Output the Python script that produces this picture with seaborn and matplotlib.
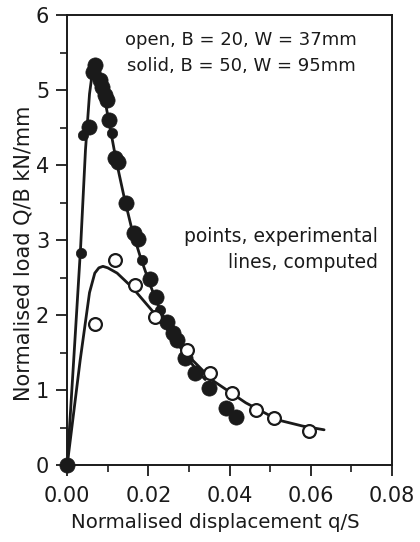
import matplotlib
matplotlib.use("Agg")
import matplotlib.pyplot as plt
import seaborn as sns
import pandas as pd
from matplotlib.ticker import MultipleLocator

# ---- data ----
solid_x = [0.0, 0.0033, 0.0040, 0.0054, 0.0069, 0.0064, 0.0081, 0.0086, 0.0093, 0.0098,
           0.0103, 0.0110, 0.0118, 0.0126, 0.0145, 0.0164, 0.0174, 0.0184, 0.0204, 0.0220,
           0.0228, 0.0245, 0.0260, 0.0270, 0.0290, 0.0314, 0.0350, 0.0392, 0.0415]
solid_y = [0.0, 2.83, 4.40, 4.51, 5.33, 5.24, 5.13, 5.04, 4.93, 4.87,
           4.60, 4.43, 4.09, 4.04, 3.50, 3.09, 3.01, 2.73, 2.48, 2.24,
           2.07, 1.91, 1.76, 1.67, 1.43, 1.23, 1.03, 0.76, 0.64]
solid_big = [1, 0, 0, 1, 1, 1, 1, 1, 1, 1,
             1, 0, 1, 1, 1, 1, 1, 0, 1, 1,
             0, 1, 1, 1, 1, 1, 1, 1, 1]

open_x = [0.0069, 0.0118, 0.0167, 0.0216, 0.0294, 0.0351, 0.0407, 0.0466, 0.0510, 0.0596]
open_y = [1.88, 2.73, 2.40, 1.97, 1.53, 1.23, 0.96, 0.73, 0.63, 0.45]

solid_line_x = [0.0, 0.0020, 0.0033, 0.0045, 0.0055, 0.0063, 0.0070, 0.0080, 0.0090, 0.0105,
                0.0120, 0.0140, 0.0160, 0.0180, 0.0200, 0.0220, 0.0240, 0.0260, 0.0280, 0.0300,
                0.0320, 0.0340]
solid_line_y = [0.0, 1.75, 2.90, 4.20, 4.95, 5.28, 5.30, 5.18, 4.95, 4.52,
                4.08, 3.58, 3.13, 2.78, 2.47, 2.18, 1.94, 1.74, 1.56, 1.40,
                1.26, 1.14]

open_line_x = [0.0, 0.0032, 0.0055, 0.0068, 0.0078, 0.0088, 0.0100, 0.0123, 0.0160, 0.0187,
               0.0236, 0.0285, 0.0358, 0.0440, 0.0520, 0.0580, 0.0633]
open_line_y = [0.0, 1.40, 2.30, 2.56, 2.63, 2.65, 2.63, 2.56, 2.37, 2.20,
               1.89, 1.53, 1.13, 0.83, 0.60, 0.52, 0.47]

x_ticks = [0.00, 0.02, 0.04, 0.06, 0.08]
x_tick_labels = ["0.00", "0.02", "0.04", "0.06", "0.08"]
y_ticks = [0, 1, 2, 3, 4, 5, 6]

# ---- plot ----
sns.set_theme(style="ticks")
plt.rcParams["font.family"] = ["DejaVu Sans"]

INK = "#1a1a1a"
fig = plt.figure(figsize=(4.2, 5.42), dpi=100)
ax = fig.add_axes([0.160, 0.142, 0.773, 0.830])

sns.lineplot(x=solid_line_x, y=solid_line_y, sort=False, estimator=None, ax=ax,
             color=INK, linewidth=2.0)
sns.lineplot(x=open_line_x, y=open_line_y, sort=False, estimator=None, ax=ax,
             color=INK, linewidth=2.0)

df_solid = pd.DataFrame({"x": solid_x, "y": solid_y, "big": solid_big})
big = df_solid[df_solid["big"] == 1]
small = df_solid[df_solid["big"] == 0]
sns.scatterplot(data=big, x="x", y="y", ax=ax, s=120, color=INK,
                edgecolor=INK, linewidth=0.5, zorder=4, clip_on=False)
sns.scatterplot(data=small, x="x", y="y", ax=ax, s=55, color=INK,
                edgecolor=INK, linewidth=0.5, zorder=4, clip_on=False)
sns.scatterplot(x=open_x, y=open_y, ax=ax, s=85, facecolor="white",
                edgecolor=INK, linewidth=1.6, zorder=5)

ax.set_xlim(0, 0.08)
ax.set_ylim(0, 6)
ax.set_xticks(x_ticks)
ax.set_xticklabels(x_tick_labels)
ax.set_yticks(y_ticks)
ax.xaxis.set_minor_locator(MultipleLocator(0.01))
ax.yaxis.set_minor_locator(MultipleLocator(0.5))
ax.tick_params(axis="both", which="major", direction="out", length=8, width=1.3,
               labelsize=15, colors=INK)
ax.tick_params(axis="x", which="major", pad=7)
ax.tick_params(axis="y", which="major", pad=5)
ax.tick_params(axis="both", which="minor", direction="out", length=5, width=1.2,
               colors=INK)
for sp in ax.spines.values():
    sp.set_visible(True)
    sp.set_linewidth(1.4)
    sp.set_color(INK)

ax.set_xlabel("Normalised displacement q/S", fontsize=14.2, color=INK)
ax.set_ylabel("Normalised load Q/B kN/mm", fontsize=15, color=INK)
ax.xaxis.set_label_coords(0.455, -0.106)
ax.yaxis.set_label_coords(-0.105, 0.471)

ax.text(0.535, 0.944, "open, B = 20, W = 37mm", transform=ax.transAxes, ha="center",
        va="center", fontsize=13, color=INK)
ax.text(0.535, 0.886, "solid, B = 50, W = 95mm", transform=ax.transAxes, ha="center",
        va="center", fontsize=13, color=INK)
ax.text(0.957, 0.507, "points, experimental", transform=ax.transAxes, ha="right",
        va="center", fontsize=13.5, color=INK)
ax.text(0.957, 0.451, "lines, computed", transform=ax.transAxes, ha="right",
        va="center", fontsize=13.5, color=INK)

fig.savefig("out.png", dpi=100)
